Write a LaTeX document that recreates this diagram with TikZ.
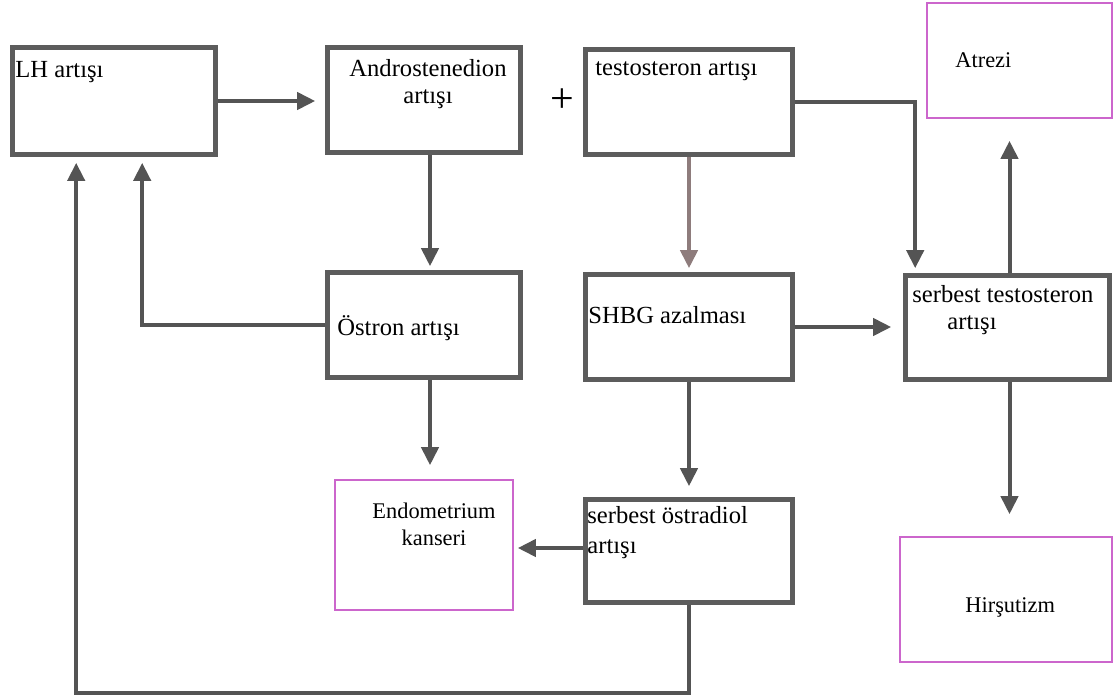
\documentclass[tikz,border=0pt]{standalone}
\usepackage{fontspec}
\setmainfont{Liberation Serif}
\usetikzlibrary{arrows.meta, positioning, calc}
\definecolor{boxgray}{RGB}{92,92,92}
\definecolor{arrgray}{RGB}{84,84,84}
\definecolor{arrlight}{RGB}{142,124,124}
\definecolor{endmag}{RGB}{204,102,204}

\begin{document}
\begin{tikzpicture}[x=0.5pt, y=-0.5pt, font=\fontsize{12.3}{13.5}\selectfont,
		box/.style={draw=boxgray, line width=2.3pt, minimum width=103.5pt,
		            minimum height=52.5pt, inner sep=0pt},
		endbox/.style={draw=endmag, line width=0.8pt, inner sep=0pt},
		txt/.style={anchor=base west, inner sep=0pt},
		endtxt/.style={inner sep=0pt, align=center, font=\fontsize{11.2}{13.5}\selectfont},
		arr/.style={-{Triangle[length=9pt, width=8.5pt]}, line width=2pt, arrgray}]
		\useasboundingbox (0,0) rectangle (1114,698);
		% boxes
		\node[box, minimum width=101.5pt, minimum height=53.5pt] (lh) at (114,101) {};
		\node[box, minimum width=96.5pt] (andro) at (424,100) {};
		\node[box] (testo) at (689,102) {};
		\node[box, minimum width=96.5pt] (ostron) at (424,325) {};
		\node[box] (shbg) at (689,327) {};
		\node[box, minimum width=102pt, minimum height=52pt] (sertest) at (1007.5,327.5) {};
		\node[box, minimum height=51.5pt] (serost) at (689,551) {};
		\node[endbox, minimum width=92.5pt, minimum height=57.5pt] (atrezi) at (1019.5,60.5) {};
		\node[endbox, minimum width=89pt, minimum height=65pt] (endo) at (424,545) {};
		\node[endbox, minimum width=106pt, minimum height=62.5pt] (hirsut) at (1006,599.5) {};
		% texts
		\node[txt] (lh-t) at (15,77) {LH artışı};
		\node[anchor=north, align=center, inner sep=0pt] (andro-t) at (428,59) {Androstenedion\\artışı};
		\node[inner sep=0pt] (plus) at (562,101) {\fontsize{21}{21}\selectfont +};
		\node[txt] (testo-t) at (595,75) {testosteron artışı};
		\node[txt] (ostron-t) at (337,335) {Östron artışı};
		\node[txt] (shbg-t) at (588,323) {SHBG azalması};
		\node[anchor=north west, align=left, inner sep=0pt] (sertest-t) at (912,285)
			{serbest testosteron\\\hspace{17.5pt}artışı};
		\node[anchor=north west, align=left, inner sep=0pt] (serost-t) at (587,506)
			{serbest östradiol\\[1.5pt]artışı};
		\node[endtxt, anchor=base west] (atrezi-t) at (955,67) {Atrezi};
		\node[endtxt, anchor=north] (endo-t) at (434,503) {Endometrium\\kanseri};
		\node[endtxt, anchor=base west] (hirsut-t) at (965,612) {Hirşutizm};
		% connectors
		\draw[arr, shorten >=5pt] (lh.east) -- (lh.east -| andro.west);
		\draw[arr, shorten >=2pt] ([xshift=3pt]andro.south) -- ([xshift=3pt]ostron.north);
		\draw[arr, arrlight, shorten >=2pt] (testo.south) -- (shbg.north);
		\draw[arr, shorten >=2.5pt] (testo.east) -| ([xshift=6pt]sertest.north west);
		\draw[arr, shorten >=3pt] (ostron.west) -| ([xshift=66pt]lh.south west);
		\draw[arr, shorten >=7pt] ([xshift=3pt]ostron.south) -- ([xshift=3pt]endo.north);
		\draw[arr, shorten >=6pt] (shbg.east) -- (shbg.east -| sertest.west);
		\draw[arr, shorten >=5.5pt] (shbg.south) -- (serost.north);
		\draw[arr, shorten >=11pt] ([xshift=1pt]sertest.north) -- ([xshift=1pt]sertest.north |- atrezi.south);
		\draw[arr, shorten >=11pt] ([xshift=1pt]sertest.south) -- ([xshift=1pt]sertest.south |- hirsut.north);
		\draw[arr, shorten >=2pt] ([yshift=1.5pt]serost.west) -- ([yshift=1.5pt]serost.west -| endo.east);
		\draw[arr, shorten >=3pt] (serost.south) -- ++(0,88) -| ([xshift=33pt]lh.south west);
	\end{tikzpicture}
\end{document}
